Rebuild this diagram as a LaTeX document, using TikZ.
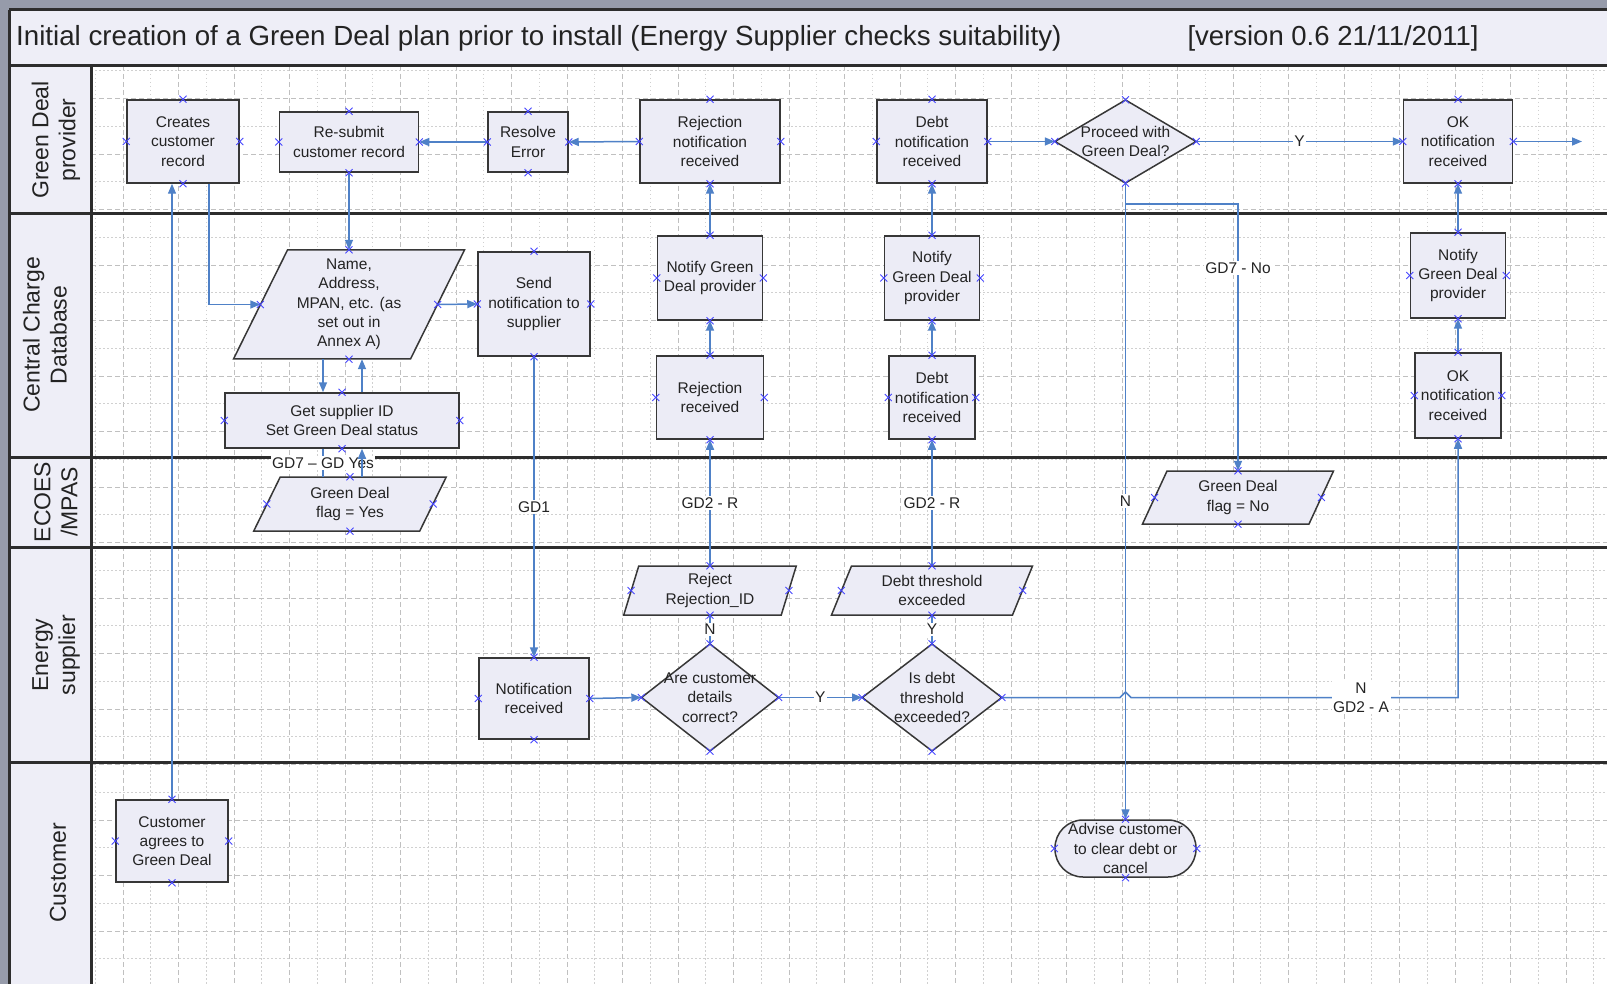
\documentclass[tikz,border=0pt]{standalone}
\usepackage{fontspec}
\setmainfont{Liberation Sans}
\usetikzlibrary{arrows.meta,calc}
\definecolor{cblue}{RGB}{79,129,199}
\definecolor{xblue}{RGB}{70,70,255}
\definecolor{boxfill}{RGB}{236,236,246}
\definecolor{hdrfill}{RGB}{238,238,247}
\definecolor{bdr}{RGB}{55,55,55}
\definecolor{lanec}{RGB}{45,45,45}
\definecolor{gridc}{RGB}{192,192,192}
\definecolor{gridm}{RGB}{208,208,208}
\definecolor{outerc}{RGB}{150,155,170}
\definecolor{txtc}{RGB}{35,35,35}
\newcommand\bodyfont{\fontsize{15.5}{19.3}\selectfont}
\newcommand\xat[1]{\draw[xmk] (#1) +(-3.5,-3.5) -- +(3.5,3.5) +(-3.5,3.5) -- +(3.5,-3.5);}
\newcommand\xmarks[1]{\xat{#1.north}\xat{#1.south}\xat{#1.east}\xat{#1.west}}
% name cx cy w h text
\newcommand\diam[6]{%
  \draw[shp] ({#2-#4/2},#3) -- (#2,{#3-#5/2}) -- ({#2+#4/2},#3) -- (#2,{#3+#5/2}) -- cycle;
  \node[txt, minimum width=#4, minimum height=#5] (#1) at (#2,#3) {#6};}
% name cx cy w h slant text
\newcommand\para[7]{%
  \draw[shp] ({#2-#4/2+#6/2},{#3-#5/2}) -- ({#2+#4/2+#6/2},{#3-#5/2}) -- ({#2+#4/2-#6/2},{#3+#5/2}) -- ({#2-#4/2-#6/2},{#3+#5/2}) -- cycle;
  \node[txt, minimum width=#4, minimum height=#5] (#1) at (#2,#3) {#7};}
\begin{document}
\begin{tikzpicture}[x=1pt,y=-1pt,
  box/.style={draw=bdr, fill=boxfill, line width=1.5pt, inner sep=0pt, align=center, font=\bodyfont, text=txtc},
  txt/.style={inner sep=0pt, align=center, font=\bodyfont, text=txtc},
  shp/.style={draw=bdr, fill=boxfill, line width=1.5pt},
  conn/.style={draw=cblue, line width=1.5pt, -{Triangle[length=10pt,width=8pt]}},
  cline/.style={draw=cblue, line width=1.5pt},
  lbl/.style={fill=white, inner sep=1.5pt, align=center, font=\bodyfont, text=txtc},
  xmk/.style={draw=xblue, line width=0.8pt},
  lane/.style={draw=lanec, line width=3pt},
  hdr/.style={rotate=90, align=center, font=\fontsize{23}{27}\selectfont, text=txtc, inner sep=0pt},
  gmaj/.style={draw=gridc, line width=0.8pt, dash pattern=on 5pt off 3pt},
  gmin/.style={draw=gridm, line width=0.7pt, dash pattern=on 1.5pt off 2.5pt},
]
\useasboundingbox (0,0) rectangle (1607,984);
% background
\fill[outerc] (0,0) rectangle (1607,984);
\fill[white] (9,10) rectangle (1607,984);
\fill[hdrfill] (9,10) rectangle (1607,66);
\fill[hdrfill] (9,66) rectangle (91,984);
% grid
\foreach \i in {0,...,26} \draw[gmaj] ({123+55.5*\i},66) -- ({123+55.5*\i},984);
\foreach \i in {0,...,27} \draw[gmin] ({95.25+55.5*\i},66) -- ({95.25+55.5*\i},984);
\foreach \i in {0,...,15} \draw[gmaj] (91,{98.5+55.5*\i}) -- (1607,{98.5+55.5*\i});
\foreach \i in {0,...,16} \draw[gmin] (91,{70.75+55.5*\i}) -- (1607,{70.75+55.5*\i});
% lanes
\draw[lane] (9,10) -- (1607,10);
\draw[lane] (9,10) -- (9,984);
\foreach \y in {66,214,457,547,762} \draw[lane] (9,\y) -- (1607,\y);
\draw[lane] (91,66) -- (91,984);
% title
\node[anchor=west, font=\fontsize{27.7}{32}\selectfont, text=txtc, inner sep=0pt] (title) at (16,38) {Initial creation of a Green Deal plan prior to install (Energy Supplier checks suitability)};
\node[font=\fontsize{27.5}{32}\selectfont, text=txtc, inner sep=0pt] (version) at (1333,38) {[version 0.6 21/11/2011]};
% lane headers
\node[hdr] (h1) at (56,140) {Green Deal\\provider};
\node[hdr] (h2) at (45,335) {Central Charge\\Database};
\node[hdr] (h3) at (56,502) {ECOES\\/MPAS};
\node[hdr] (h4) at (56,655) {Energy\\supplier};
\node[hdr] (h5) at (58,873) {Customer};

% ---- nodes ----
\node[box, minimum width=112, minimum height=83] (creates) at (183,141.5) {Creates\\customer\\record};
\node[box, minimum width=139, minimum height=60] (resubmit) at (349,142) {Re-submit\\customer record};
\node[box, minimum width=80, minimum height=60] (resolve) at (528,142) {Resolve\\Error};
\node[box, minimum width=140, minimum height=83] (rejnot) at (710,141.5) {Rejection\\notification\\received};
\node[box, minimum width=110, minimum height=83] (debtnot) at (932,141.5) {Debt\\notification\\received};
\diam{proceed}{1125.5}{141.5}{141}{83}{Proceed with\\Green Deal?}
\node[box, minimum width=109, minimum height=83] (oknot) at (1458,141.5) {OK\\notification\\received};
\coordinate (okout) at (1582,141.5);

\para{name}{349}{304.5}{177}{109}{54}{Name,\\Address,\\MPAN, etc. (as\\set out in\\Annex A)}
\node[box, minimum width=112, minimum height=104] (send) at (534,304) {Send\\notification to\\supplier};
\node[box, minimum width=234, minimum height=55] (get) at (342,420.5) {Get supplier ID\\Set Green Deal status};
\node[box, minimum width=105, minimum height=84] (notify1) at (710,278) {Notify Green\\Deal provider};
\node[box, minimum width=107, minimum height=83] (rejrec) at (710,397.5) {Rejection\\received};
\node[box, minimum width=95, minimum height=84] (notify2) at (932,278) {Notify\\Green Deal\\provider};
\node[box, minimum width=86, minimum height=83] (debtrec) at (932,397.5) {Debt\\notification\\received};
\node[box, minimum width=95, minimum height=85] (notify3) at (1458,275.5) {Notify\\Green Deal\\provider};
\node[box, minimum width=86, minimum height=85] (okrec) at (1458,395.5) {OK\\notification\\received};

\para{flagY}{350}{504}{166}{54}{26.5}{Green Deal\\flag = Yes}
\para{flagN}{1238}{497.5}{166.5}{53}{24.5}{Green Deal\\flag = No}

\para{reject}{710}{590.5}{157.5}{49}{15}{Reject\\Rejection\_ID}
\para{debtthr}{932}{590.5}{181}{49}{20}{Debt threshold\\exceeded}
\node[box, minimum width=110, minimum height=81] (notif) at (534,698.5) {Notification\\received};
\diam{cdc}{710}{697.5}{137}{107}{Are customer\\details\\correct?}
\diam{debtq}{932}{697.5}{139.5}{107}{Is debt\\threshold\\exceeded?}

\node[box, minimum width=112, minimum height=82] (cust) at (172,841) {Customer\\agrees to\\Green Deal};
\node[box, rounded corners=28pt, minimum width=141, minimum height=57] (advise) at (1125.5,848.5) {Advise customer\\to clear debt or\\cancel};

% ---- connectors ----
\draw[conn, line width=1.3pt] (cust.north) -- (cust.north |- creates.south);
\draw[conn] ([xshift=26pt]creates.south) |- (name.west);
\draw[conn] (resubmit.south) -- (name.north);
\draw[conn] (resolve.west) -- (resubmit.east);
\draw[conn] (rejnot.west) -- (resolve.east);
\draw[conn] (name.east) -- (send.west);
\draw[conn] ([xshift=-26pt]name.south) -- ([xshift=-26pt]name.south |- get.north);
\draw[conn] ([xshift=20pt]get.north) -- ([xshift=20pt]get.north |- name.south);
\draw[cline] ([xshift=-19pt]get.south) -- node[lbl] (lgdy) {GD7 -- GD Yes} ([xshift=-19pt]get.south |- flagY.north);
\draw[conn] ([xshift=20pt]get.south |- flagY.north) -- ([xshift=20pt]get.south);
\draw[conn] (send.south) -- node[lbl] (lgd1) {GD1} (notif.north);
\draw[conn] (notif.east) -- (cdc.west);
\draw[conn] (cdc.east) -- node[lbl] (ly1) {Y} (debtq.west);
\draw[cline] (cdc.north) -- node[lbl] (ln1) {N} (reject.south);
\draw[cline] (debtq.north) -- node[lbl] (ly2) {Y} (debtthr.south);
\draw[conn] (reject.north) -- node[lbl] (lgr1) {GD2 - R} (rejrec.south);
\draw[conn] (rejrec.north) -- (notify1.south);
\draw[conn] (notify1.north) -- (rejnot.south);
\draw[conn] (debtthr.north) -- node[lbl] (lgr2) {GD2 - R} (debtrec.south);
\draw[conn] (debtrec.north) -- (notify2.south);
\draw[conn] (notify2.north) -- (debtnot.south);
\draw[conn] (debtnot.east) -- (proceed.west);
\draw[conn] (proceed.east) -- node[lbl] (ly3) {Y} (oknot.west);
\draw[conn] (oknot.east) -- (okout);
\draw[conn, line width=1.3pt] (proceed.south) -- node[lbl] (ln2) {N} (advise.north);
\coordinate (br) at (1125.5,204);
\draw[conn] (br) -| node[lbl, pos=0.62] (lgdn) {GD7 - No} (flagN.north);
\draw[conn] (debtq.east) -- (1120,697.5) -- (1125.5,692) -- (1131,697.5) -| (okrec.south);
\node[lbl] (lna) at (1361,697.5) {N\\GD2 - A};
\draw[conn] (okrec.north) -- (notify3.south);
\draw[conn] (notify3.north) -- (oknot.south);

% ---- connection-point marks ----
\foreach \n in {creates,resubmit,resolve,rejnot,debtnot,proceed,oknot,name,send,get,notify1,rejrec,notify2,debtrec,notify3,okrec,flagY,flagN,reject,debtthr,notif,cdc,debtq,cust,advise}{\xmarks{\n}}
\end{tikzpicture}
\end{document}
